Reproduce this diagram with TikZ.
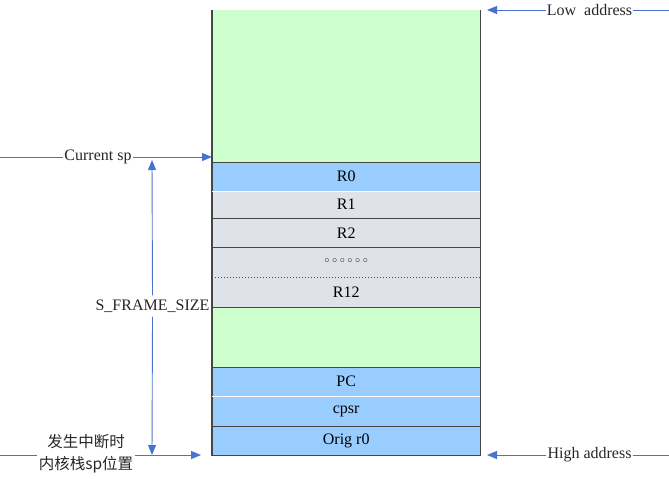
\documentclass[tikz,border=0pt]{standalone}
\usepackage{fontspec}
\setmainfont{Liberation Serif}
\newfontfamily\cjk{Noto Sans CJK SC}
\newfontfamily\dejavu{DejaVu Sans}
\usetikzlibrary{arrows.meta}
\definecolor{grn}{RGB}{204,255,204}
\definecolor{blu}{RGB}{153,204,255}
\definecolor{dotgray}{RGB}{224,226,234}
\definecolor{edge}{RGB}{70,70,70}
\definecolor{arr}{RGB}{70,115,205}
\begin{document}
\begin{tikzpicture}[x=1pt,y=-1pt,
  every node/.style={font=\fontsize{16}{19}\selectfont, inner sep=0pt},
  cell/.style={minimum width=268pt, anchor=north west, draw=none},
  lbl/.style={text=black!85},
  ptr/.style={arr, line width=0.9pt},
  tip/.style={-{Triangle[length=10pt,width=8pt]}}
]
\useasboundingbox (0,0) rectangle (669,479);
% stack cells
\node[cell, fill=grn, minimum height=152pt] (top) at (212,10) {};
\node[cell, fill=blu, minimum height=29pt] (r0) at (212,162) {R0};
\node[cell, fill=dotgray, minimum height=27pt] (r1) at (212,191) {R1};
\node[cell, fill=dotgray, minimum height=29pt] (r2) at (212,218) {R2};
\node[cell, fill=dotgray, minimum height=30pt] (rd) at (212,247) {\dejavu\fontsize{13}{15}\selectfont ◦◦◦◦◦◦};
\node[cell, fill=dotgray, minimum height=30pt] (r12) at (212,277) {R12};
\node[cell, fill=grn, minimum height=60pt] (mid) at (212,307) {};
\node[cell, fill=blu, minimum height=29pt] (pc) at (212,367) {PC};
\node[cell, fill=blu, minimum height=30pt] (cpsr) at (212,396) {cpsr};
\node[cell, fill=blu, minimum height=29pt] (orig) at (212,426) {Orig r0};
% outlines
\draw[edge, line width=1.3pt] (top.north west) -- (orig.south west) -- (orig.south east) -- (top.north east);
\draw[edge, line width=1.3pt] (top.south west) -- (top.south east);
\draw[white, line width=1pt] (r0.south west) -- (r0.south east);
\draw[edge, line width=1.3pt] (r1.south west) -- (r1.south east);
\draw[edge, line width=1.3pt] (r2.south west) -- (r2.south east);
\draw[edge, line width=1pt, dotted] (rd.south west) -- (rd.south east);
\draw[edge, line width=1.3pt] (r12.south west) -- (r12.south east);
\draw[edge, line width=1.3pt] (mid.south west) -- (mid.south east);
\draw[white, line width=1pt] (pc.south west) -- (pc.south east);
\draw[edge, line width=1.3pt] (cpsr.south west) -- (cpsr.south east);
% Current sp
\coordinate (csL) at (0,157);
\coordinate (csR) at (212,157);
\node[lbl, fill=white, inner xsep=1pt] (cs) at (98,157) {Current sp};
\draw[ptr] (csL) -- (cs.west);
\draw[ptr, tip] (cs.east) -- (csR);
% S_FRAME_SIZE
\coordinate (fsT) at (152,160);
\coordinate (fsB) at (152,455);
\node[lbl] (fs) at (152.5,306) {S\_FRAME\_SIZE};
\draw[ptr, tip] (fs.north) ++(0,-4) -- (fsT);
\draw[ptr, tip] (fs.south) ++(0,4) -- (fsB);
% interrupt sp
\coordinate (isL) at (0,455);
\coordinate (isR) at (201,455);
\node[lbl, align=center, font=\cjk\fontsize{15.5}{22}\selectfont] (is) at (86,454) {发生中断时\\内核栈sp位置};
\draw[ptr] (isL) -- (37,455);
\draw[ptr, tip] (135,455) -- (isR);
% Low address
\coordinate (laT) at (487,10);
\coordinate (laR) at (669,10);
\node[lbl] (la) at (589.5,10) {Low\ \ address};
\draw[ptr, tip] (la.west) ++(-1,0) -- (laT);
\draw[ptr] (la.east) ++(1,0) -- (laR);
% High address
\coordinate (haT) at (487,455);
\coordinate (haR) at (669,455);
\node[lbl] (ha) at (589.5,455) {High address};
\draw[ptr, tip] (ha.west) ++(-1,0) -- (haT);
\draw[ptr] (ha.east) ++(1,0) -- (haR);
\end{tikzpicture}
\end{document}
